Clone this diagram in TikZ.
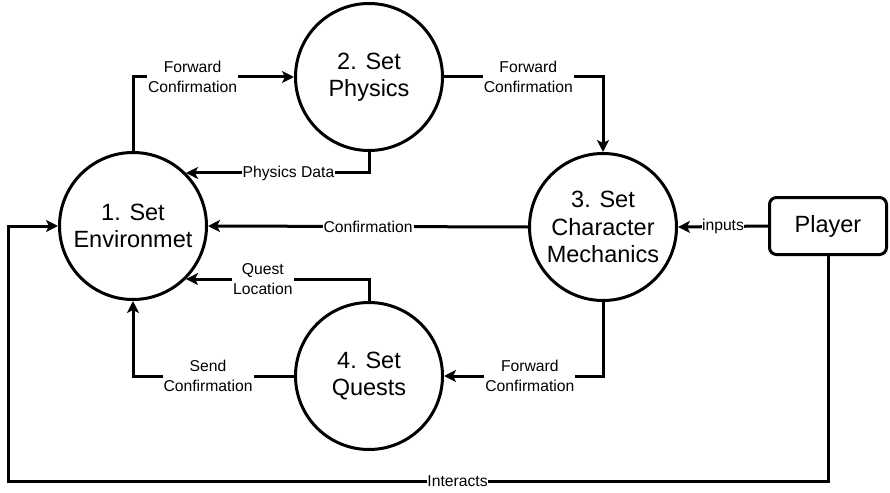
\documentclass[tikz,border=0pt]{standalone}
\usepackage{fontspec}
\setmainfont{Liberation Sans}
\usetikzlibrary{arrows.meta}

\begin{document}
\begin{tikzpicture}[x=1pt, y=-1pt, line width=3pt]
	\tikzstyle{process}=[circle, draw, minimum size=147pt, inner sep=0pt, align=center, font=\fontsize{23.5}{27.5}\selectfont]
	\tikzstyle{entity}=[rectangle, draw, rounded corners=7pt, minimum width=117pt, minimum height=57pt, font=\fontsize{23.5}{27.5}\selectfont]
	\tikzstyle{flow}=[-{Stealth[length=12pt, width=12pt, inset=3pt]}]
	\tikzstyle{lbl}=[fill=white, inner sep=1pt, align=center, font=\fontsize{15.7}{20}\selectfont]
	\useasboundingbox (0,0) rectangle (890,492);
	\node[process] (env) at (133, 226) {1. Set\\Environmet};
	\node[process] (phys) at (369, 77) {2. Set\\Physics};
	\node[process] (mech) at (603, 227) {3. Set\\Character\\Mechanics};
	\node[process] (quest) at (369, 376) {4. Set\\Quests};
	\node[entity] (player) at (828, 226) {Player};
	\coordinate (corner) at (8.5, 481);
	\draw [flow] (env.north) |- (phys.west) node[lbl, pos=0.685] {Forward\\Confirmation};
	\draw [flow] (phys.south) |- (env.north east) node[lbl, pos=0.72] {Physics Data};
	\draw [flow] (phys.east) -| (mech.north) node[lbl, pos=0.265] {Forward\\Confirmation};
	\draw [flow] (mech.west) -- (env.east) node[lbl, midway] {Confirmation};
	\draw [flow] (player.west) -- (mech.east) node[lbl, midway, inner sep=0.5pt] {inputs};
	\draw [flow] (quest.north) |- (env.south east) node[lbl, pos=0.79] {Quest\\Location};
	\draw [flow] (quest.west) -| (env.south) node[lbl, pos=0.267] {Send\\Confirmation};
	\draw [flow] (mech.south) |- (quest.east) node[lbl, pos=0.73] {Forward\\Confirmation};
	\draw [flow] (player.south) |- (corner) node[lbl, pos=0.726, inner sep=0.5pt] {Interacts} |- (env.west);
\end{tikzpicture}
\end{document}
